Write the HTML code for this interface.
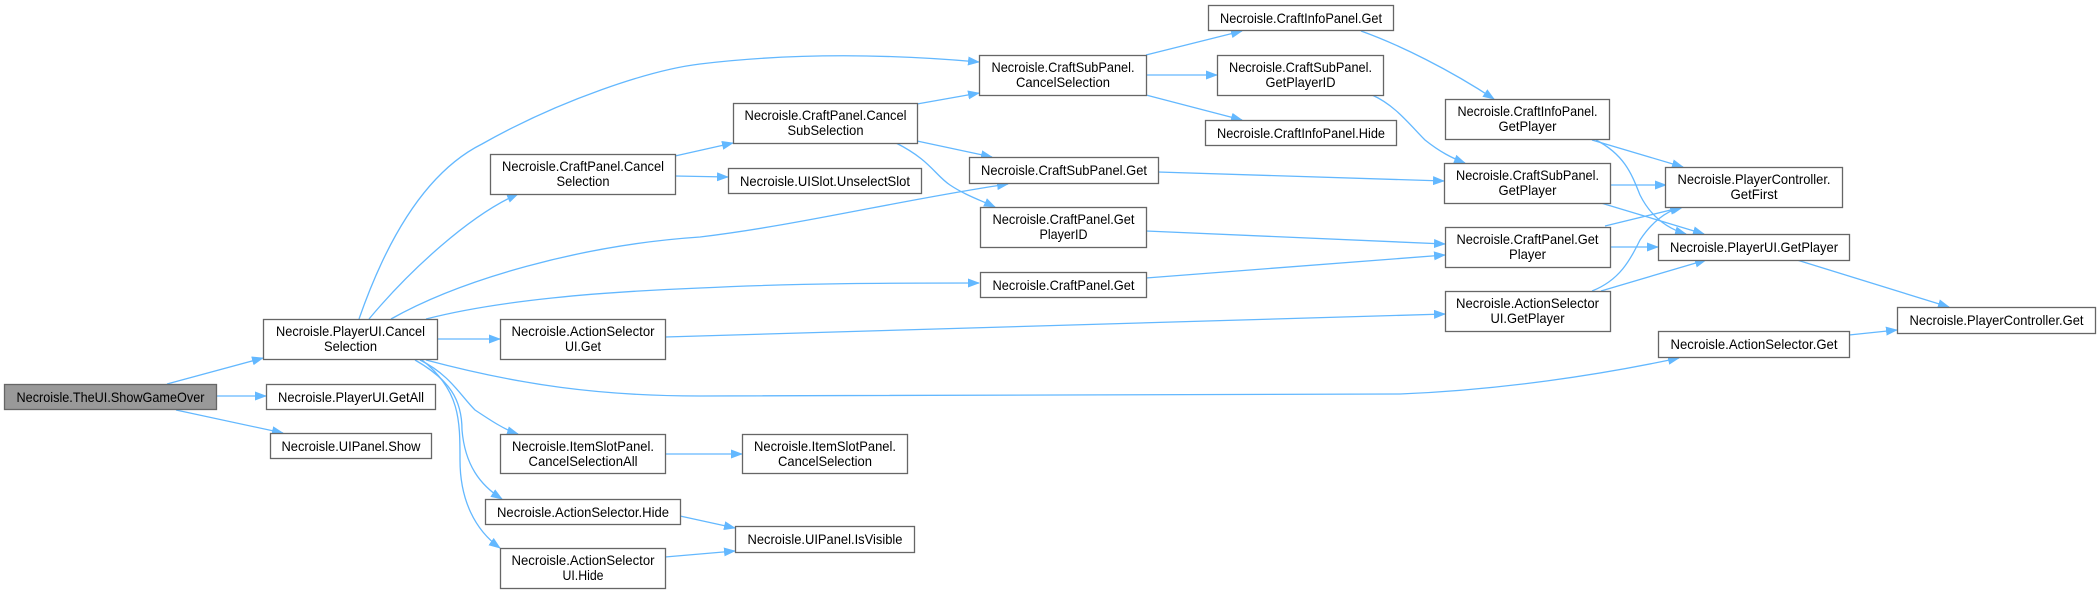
<!DOCTYPE html>
<html><head><meta charset="utf-8"><style>
html,body{margin:0;padding:0;background:#fff;}
svg{display:block;}
text{font-family:"Liberation Sans",Arial,sans-serif;font-size:14px;fill:#000;}
.n{fill:#fff;stroke:#666;stroke-width:1.3;}
.e{fill:none;stroke:#63b8ff;stroke-width:1.3;marker-end:url(#a);}
</style></head><body>
<svg width="2100" height="594" viewBox="0 0 2100 594" xmlns="http://www.w3.org/2000/svg">
<defs><marker id="a" markerWidth="12" markerHeight="9" refX="11" refY="4.5" orient="auto" markerUnits="userSpaceOnUse"><path d="M0,0 L12,4.5 L0,9 z" fill="#63b8ff"/></marker></defs>

<!-- edges -->
<path class="e" d="M167,384 L263,358"/>
<path class="e" d="M216,396 L266,396"/>
<path class="e" d="M176,410 L283,433"/>
<path class="e" d="M359,319 C390,230 430,170 482,144 C560,100 650,70 700,64 C800,52 900,55 979,62"/>
<path class="e" d="M369,319 C410,270 470,215 518,194"/>
<path class="e" d="M391,319 C460,280 580,245 700,237 C800,225 900,200 1008,184"/>
<path class="e" d="M426,319 C500,300 600,292 700,288 C800,283 900,283 979,283"/>
<path class="e" d="M437,339 L500,339"/>
<path class="e" d="M426,360 C520,385 600,396 700,396 L1400,394 C1500,390 1600,375 1679,358"/>
<path class="e" d="M420,360 C450,375 460,395 475,410 C490,420 505,430 518,434"/>
<path class="e" d="M415,360 C450,380 462,400 462,430 C465,465 480,485 502,499"/>
<path class="e" d="M422,360 C460,390 460,420 460,460 C460,500 475,530 500,548"/>
<path class="e" d="M675,156 L733,143"/>
<path class="e" d="M675,176 L728,177"/>
<path class="e" d="M917,104 L979,93"/>
<path class="e" d="M917,141 L992,157"/>
<path class="e" d="M896,143 C930,160 935,175 950,185 C965,195 980,200 995,207"/>
<path class="e" d="M1146,55 L1242,31"/>
<path class="e" d="M1146,75 L1217,75"/>
<path class="e" d="M1146,95 L1242,120"/>
<path class="e" d="M1361,31 C1400,45 1450,70 1494,99"/>
<path class="e" d="M1372,95 C1395,105 1410,125 1425,140 C1440,152 1452,158 1465,163"/>
<path class="e" d="M1158,172 L1444,181"/>
<path class="e" d="M1146,231 L1445,244"/>
<path class="e" d="M1146,278 L1445,255"/>
<path class="e" d="M665,337 L1445,314"/>
<path class="e" d="M1592,140 L1683,167"/>
<path class="e" d="M1596,140 C1625,155 1632,175 1640,195 C1650,215 1665,228 1686,234"/>
<path class="e" d="M1610,185 L1666,185"/>
<path class="e" d="M1601,203 L1704,234"/>
<path class="e" d="M1605,226 L1683,207"/>
<path class="e" d="M1610,247 L1658,247"/>
<path class="e" d="M1592,291 C1620,280 1630,260 1640,240 C1652,222 1665,212 1681,207"/>
<path class="e" d="M1601,291 L1706,260"/>
<path class="e" d="M1797,260 L1949,307"/>
<path class="e" d="M1849,335 L1897,330"/>
<path class="e" d="M665,454 L742,454"/>
<path class="e" d="M680,516 L735,528"/>
<path class="e" d="M665,557 L735,551"/>

<!-- nodes -->
<rect x="4.5" y="384.5" width="212" height="25" fill="#999" stroke="#666" stroke-width="1.3"/>
<text x="110.5" y="402" text-anchor="middle" textLength="188" lengthAdjust="spacingAndGlyphs">Necroisle.TheUI.ShowGameOver</text>

<rect class="n" x="263.5" y="319.5" width="174" height="40"/>
<text x="350.5" y="336" text-anchor="middle" textLength="149" lengthAdjust="spacingAndGlyphs">Necroisle.PlayerUI.Cancel</text>
<text x="350.5" y="351" text-anchor="middle" textLength="53" lengthAdjust="spacingAndGlyphs">Selection</text>

<rect class="n" x="266.5" y="384.5" width="169" height="25"/>
<text x="351" y="402" text-anchor="middle" textLength="146" lengthAdjust="spacingAndGlyphs">Necroisle.PlayerUI.GetAll</text>

<rect class="n" x="270.5" y="433.5" width="161" height="25"/>
<text x="351" y="451" text-anchor="middle" textLength="139" lengthAdjust="spacingAndGlyphs">Necroisle.UIPanel.Show</text>

<rect class="n" x="490.5" y="154.5" width="185" height="40"/>
<text x="583" y="171" text-anchor="middle" textLength="162" lengthAdjust="spacingAndGlyphs">Necroisle.CraftPanel.Cancel</text>
<text x="583" y="186" text-anchor="middle" textLength="53" lengthAdjust="spacingAndGlyphs">Selection</text>

<rect class="n" x="500.5" y="319.5" width="165" height="40"/>
<text x="583" y="336" text-anchor="middle" textLength="143" lengthAdjust="spacingAndGlyphs">Necroisle.ActionSelector</text>
<text x="583" y="351" text-anchor="middle" textLength="36" lengthAdjust="spacingAndGlyphs">UI.Get</text>

<rect class="n" x="500.5" y="434.5" width="165" height="39"/>
<text x="583" y="451" text-anchor="middle" textLength="142" lengthAdjust="spacingAndGlyphs">Necroisle.ItemSlotPanel.</text>
<text x="583" y="466" text-anchor="middle" textLength="109" lengthAdjust="spacingAndGlyphs">CancelSelectionAll</text>

<rect class="n" x="485.5" y="499.5" width="195" height="25"/>
<text x="583" y="517" text-anchor="middle" textLength="172" lengthAdjust="spacingAndGlyphs">Necroisle.ActionSelector.Hide</text>

<rect class="n" x="500.5" y="548.5" width="165" height="40"/>
<text x="583" y="565" text-anchor="middle" textLength="143" lengthAdjust="spacingAndGlyphs">Necroisle.ActionSelector</text>
<text x="583" y="580" text-anchor="middle" textLength="41" lengthAdjust="spacingAndGlyphs">UI.Hide</text>

<rect class="n" x="733.5" y="103.5" width="184" height="40"/>
<text x="825.5" y="120" text-anchor="middle" textLength="162" lengthAdjust="spacingAndGlyphs">Necroisle.CraftPanel.Cancel</text>
<text x="825.5" y="135" text-anchor="middle" textLength="76" lengthAdjust="spacingAndGlyphs">SubSelection</text>

<rect class="n" x="728.5" y="168.5" width="193" height="25"/>
<text x="825" y="186" text-anchor="middle" textLength="170" lengthAdjust="spacingAndGlyphs">Necroisle.UISlot.UnselectSlot</text>

<rect class="n" x="742.5" y="434.5" width="165" height="39"/>
<text x="825" y="451" text-anchor="middle" textLength="142" lengthAdjust="spacingAndGlyphs">Necroisle.ItemSlotPanel.</text>
<text x="825" y="466" text-anchor="middle" textLength="94" lengthAdjust="spacingAndGlyphs">CancelSelection</text>

<rect class="n" x="735.5" y="526.5" width="179" height="26"/>
<text x="825" y="544" text-anchor="middle" textLength="155" lengthAdjust="spacingAndGlyphs">Necroisle.UIPanel.IsVisible</text>

<rect class="n" x="979.5" y="55.5" width="167" height="40"/>
<text x="1063" y="72" text-anchor="middle" textLength="143" lengthAdjust="spacingAndGlyphs">Necroisle.CraftSubPanel.</text>
<text x="1063" y="87" text-anchor="middle" textLength="94" lengthAdjust="spacingAndGlyphs">CancelSelection</text>

<rect class="n" x="969.5" y="157.5" width="189" height="26"/>
<text x="1064" y="175" text-anchor="middle" textLength="166" lengthAdjust="spacingAndGlyphs">Necroisle.CraftSubPanel.Get</text>

<rect class="n" x="980.5" y="207.5" width="166" height="40"/>
<text x="1063.5" y="224" text-anchor="middle" textLength="142" lengthAdjust="spacingAndGlyphs">Necroisle.CraftPanel.Get</text>
<text x="1063.5" y="239" text-anchor="middle" textLength="48" lengthAdjust="spacingAndGlyphs">PlayerID</text>

<rect class="n" x="980.5" y="272.5" width="166" height="25"/>
<text x="1063.5" y="290" text-anchor="middle" textLength="142" lengthAdjust="spacingAndGlyphs">Necroisle.CraftPanel.Get</text>

<rect class="n" x="1208.5" y="5.5" width="185" height="25"/>
<text x="1301" y="23" text-anchor="middle" textLength="162" lengthAdjust="spacingAndGlyphs">Necroisle.CraftInfoPanel.Get</text>

<rect class="n" x="1217.5" y="55.5" width="166" height="40"/>
<text x="1300.5" y="72" text-anchor="middle" textLength="143" lengthAdjust="spacingAndGlyphs">Necroisle.CraftSubPanel.</text>
<text x="1300.5" y="87" text-anchor="middle" textLength="70" lengthAdjust="spacingAndGlyphs">GetPlayerID</text>

<rect class="n" x="1205.5" y="120.5" width="191" height="25"/>
<text x="1301" y="138" text-anchor="middle" textLength="168" lengthAdjust="spacingAndGlyphs">Necroisle.CraftInfoPanel.Hide</text>

<rect class="n" x="1445.5" y="99.5" width="164" height="40"/>
<text x="1527.5" y="116" text-anchor="middle" textLength="140" lengthAdjust="spacingAndGlyphs">Necroisle.CraftInfoPanel.</text>
<text x="1527.5" y="131" text-anchor="middle" textLength="58" lengthAdjust="spacingAndGlyphs">GetPlayer</text>

<rect class="n" x="1444.5" y="163.5" width="166" height="40"/>
<text x="1527.5" y="180" text-anchor="middle" textLength="143" lengthAdjust="spacingAndGlyphs">Necroisle.CraftSubPanel.</text>
<text x="1527.5" y="195" text-anchor="middle" textLength="58" lengthAdjust="spacingAndGlyphs">GetPlayer</text>

<rect class="n" x="1445.5" y="227.5" width="165" height="40"/>
<text x="1527.5" y="244" text-anchor="middle" textLength="142" lengthAdjust="spacingAndGlyphs">Necroisle.CraftPanel.Get</text>
<text x="1527.5" y="259" text-anchor="middle" textLength="37" lengthAdjust="spacingAndGlyphs">Player</text>

<rect class="n" x="1445.5" y="291.5" width="165" height="40"/>
<text x="1527.5" y="308" text-anchor="middle" textLength="143" lengthAdjust="spacingAndGlyphs">Necroisle.ActionSelector</text>
<text x="1527.5" y="323" text-anchor="middle" textLength="74" lengthAdjust="spacingAndGlyphs">UI.GetPlayer</text>

<rect class="n" x="1665.5" y="167.5" width="177" height="40"/>
<text x="1754" y="184" text-anchor="middle" textLength="153" lengthAdjust="spacingAndGlyphs">Necroisle.PlayerController.</text>
<text x="1754" y="199" text-anchor="middle" textLength="47" lengthAdjust="spacingAndGlyphs">GetFirst</text>

<rect class="n" x="1658.5" y="234.5" width="191" height="26"/>
<text x="1754" y="252" text-anchor="middle" textLength="168" lengthAdjust="spacingAndGlyphs">Necroisle.PlayerUI.GetPlayer</text>

<rect class="n" x="1658.5" y="331.5" width="191" height="26"/>
<text x="1754" y="349" text-anchor="middle" textLength="167" lengthAdjust="spacingAndGlyphs">Necroisle.ActionSelector.Get</text>

<rect class="n" x="1897.5" y="307.5" width="198" height="26"/>
<text x="1996.5" y="325" text-anchor="middle" textLength="174" lengthAdjust="spacingAndGlyphs">Necroisle.PlayerController.Get</text>
</svg>
</body></html>
